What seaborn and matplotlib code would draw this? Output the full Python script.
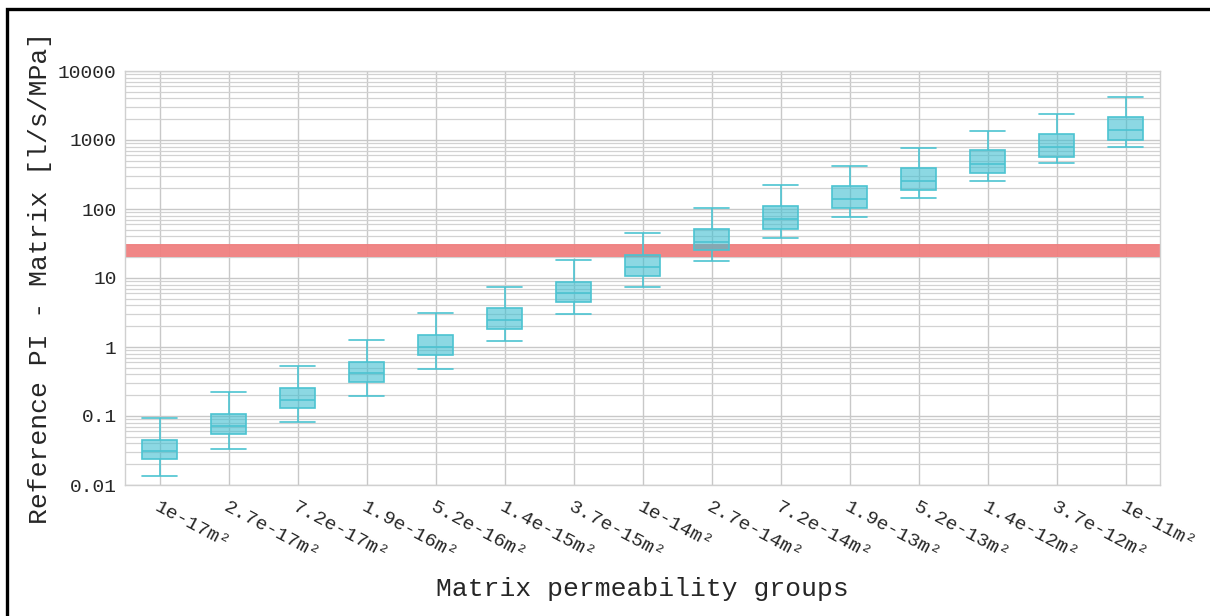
import numpy as np
import pandas as pd
import matplotlib
matplotlib.use("Agg")
import matplotlib.pyplot as plt
import matplotlib.patches as mpatches
import seaborn as sns

# Matrix permeability groups (x categories)
groups = ["1e-17m²", "2.7e-17m²", "7.2e-17m²", "1.9e-16m²", "5.2e-16m²",
          "1.4e-15m²", "3.7e-15m²", "1e-14m²", "2.7e-14m²", "7.2e-14m²",
          "1.9e-13m²", "5.2e-13m²", "1.4e-12m²", "3.7e-12m²", "1e-11m²"]

# Five-number summaries of the reference PI per group [l/s/MPa]
whisker_low = [0.0136, 0.0329, 0.081, 0.197, 0.485, 1.22, 3.01, 7.41, 17.5,
               38.4, 76.5, 144, 257, 459, 800]
quartile_1 = [0.0236, 0.0548, 0.129, 0.314, 0.758, 1.84, 4.44, 10.8, 25.5,
              51.9, 103, 187, 329, 573, 1000]
medians = [0.0308, 0.0709, 0.171, 0.415, 1.01, 2.44, 6.0, 14.4, 32.9,
           70.8, 140, 255, 444, 792, 1381]
quartile_3 = [0.0454, 0.106, 0.252, 0.607, 1.49, 3.64, 8.84, 21.5, 50.7,
              110, 215, 397, 709, 1235, 2177]
whisker_high = [0.0944, 0.223, 0.531, 1.26, 3.08, 7.48, 18.4, 44.4, 102,
                220, 420, 757, 1336, 2356, 4155]

# Target band (reference productivity range)
band_low, band_high = 20, 31

y_ticks = [0.01, 0.1, 1, 10, 100, 1000, 10000]
y_tick_labels = ["0.01", "0.1", "1", "10", "100", "1000", "10000"]

# Long-form data: the five summary values per group reproduce the box stats
rows = []
for g, lo, q1, md, q3, hi in zip(groups, whisker_low, quartile_1, medians,
                                 quartile_3, whisker_high):
    for v in (lo, q1, md, q3, hi):
        rows.append({"group": g, "value": v})
df = pd.DataFrame(rows)

sns.set_style("white")
plt.rcParams["font.family"] = ["Liberation Mono", "DejaVu Sans Mono", "DejaVu Sans"]

fig = plt.figure(figsize=(12.10, 6.16), dpi=100)
ax = fig.add_axes([125 / 1210, 1 - 485 / 616, (1160 - 125) / 1210, (485 - 71) / 616])
ax.set_yscale("log")

box_width = 0.52
box_edge = "#4cc3d1"
sns.boxplot(data=df, x="group", y="value", order=groups, whis=(0, 100),
            width=box_width, color="#3fc0d0", linecolor=box_edge, linewidth=1.2,
            saturation=1, fliersize=0, ax=ax, zorder=3)

for patch in ax.patches:
    patch.set_facecolor((0.25, 0.75, 0.82, 0.6))
    patch.set_edgecolor(box_edge)
    patch.set_zorder(3)

# Whisker caps as wide as the boxes
for line in ax.lines:
    xd = np.asarray(line.get_xdata(), dtype=float)
    yd = np.asarray(line.get_ydata(), dtype=float)
    if len(xd) == 2 and yd[0] == yd[1] and abs(xd[1] - xd[0]) < box_width * 0.95:
        c = xd.mean()
        line.set_xdata([c - box_width / 2, c + box_width / 2])
    line.set_zorder(3.5)

ax.axhspan(band_low, band_high, color="#f08080", alpha=0.95, lw=0, zorder=2)

ax.set_ylim(0.01, 10000)
ax.set_xlim(-0.5, len(groups) - 0.5)
ax.set_yticks(y_ticks)
ax.set_yticklabels(y_tick_labels)
ax.yaxis.set_minor_formatter(matplotlib.ticker.NullFormatter())
ax.yaxis.set_minor_locator(matplotlib.ticker.LogLocator(base=10, subs=np.arange(2, 10)))

ax.grid(True, which="major", axis="both", color="#c8c8c8", lw=1.0, zorder=0)
ax.grid(True, which="minor", axis="y", color="#d2d2d2", lw=0.9, zorder=0)
ax.set_axisbelow(True)
ax.tick_params(axis="both", which="both", length=0, labelsize=14)
ax.tick_params(axis="x", pad=10)
ax.tick_params(axis="y", pad=6)

for lbl in ax.get_xticklabels():
    lbl.set_rotation(-28)
    lbl.set_rotation_mode("anchor")
    lbl.set_ha("left")
    lbl.set_va("top")

for s in ax.spines.values():
    s.set_color("#d0d0d0")
    s.set_linewidth(1.0)

ax.set_xlabel("Matrix permeability groups", fontsize=19, labelpad=10)
ax.set_ylabel("Reference PI - Matrix [l/s/MPa]", fontsize=19, labelpad=4)

# Outer frame of the figure
frame = mpatches.Rectangle((7 / 1210, -0.1), 1.2, 1 - 9 / 616 + 0.1,
                           transform=fig.transFigure, fill=False,
                           edgecolor="black", lw=2.4)
fig.patches.append(frame)

fig.savefig("out.png", dpi=100)
